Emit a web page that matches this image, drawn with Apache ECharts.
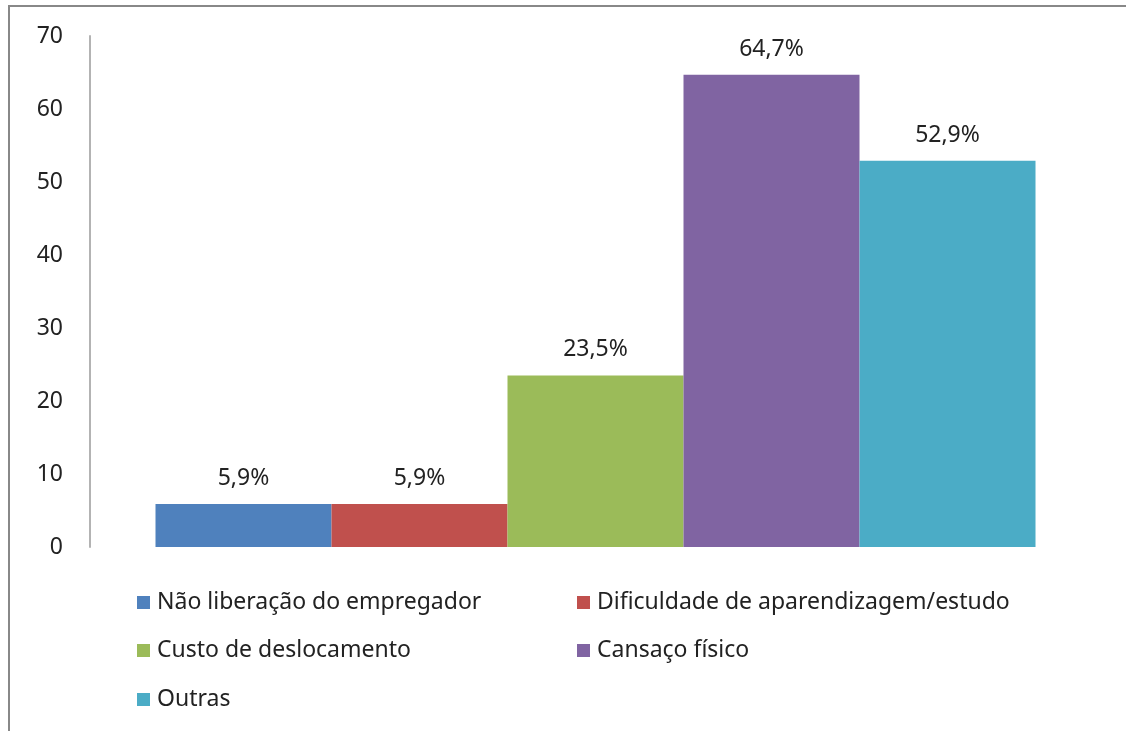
<!DOCTYPE html>
<html>
<head>
<meta charset="utf-8">
<script src="https://cdn.jsdelivr.net/npm/echarts@6/dist/echarts.min.js"></script>
<style>
  html, body { margin: 0; padding: 0; background: #fff; }
  #chart { width: 1126px; height: 731px; }
</style>
</head>
<body>
<div id="chart"></div>
<script>
// dados
var seriesNames = ['Não liberação do empregador', 'Dificuldade de aparendizagem/estudo', 'Custo de deslocamento', 'Cansaço físico', 'Outras'];
var seriesValues = [5.9, 5.9, 23.5, 64.7, 52.9];
var seriesColors = ['#4f81bd', '#c0504d', '#9bbb59', '#8064a2', '#4bacc6'];
var yTicks = [0, 10, 20, 30, 40, 50, 60, 70];

// posicao de cada item da legenda (2 colunas)
var legendPos = [[137, 591], [577, 591], [137, 639], [577, 639], [137, 688]];

var chart = echarts.init(document.getElementById('chart'));

var series = seriesNames.map(function (name, i) {
  return {
    name: name,
    type: 'bar',
    barWidth: 176,
    barGap: '0%',
    itemStyle: { color: seriesColors[i] },
    label: {
      show: true,
      position: 'top',
      distance: 14,
      fontFamily: 'Noto Sans',
      fontSize: 23,
      color: '#222',
      formatter: function (p) { return p.value.toFixed(1).replace('.', ',') + '%'; }
    },
    data: [seriesValues[i]]
  };
});

var legends = seriesNames.map(function (name, i) {
  return {
    data: [name],
    left: legendPos[i][0],
    top: legendPos[i][1],
    icon: 'rect',
    itemWidth: 13,
    itemHeight: 13,
    itemGap: 0,
    padding: 0,
    selectedMode: false,
    textStyle: { fontFamily: 'Noto Sans', fontSize: 23, color: '#222', padding: [0, 0, 0, 2] }
  };
});

chart.setOption({
  animation: false,
  backgroundColor: '#fff',
  graphic: [
    { type: 'line', shape: { x1: 8, y1: 6, x2: 1126, y2: 6 }, style: { stroke: '#888', lineWidth: 2 } },
    { type: 'line', shape: { x1: 9, y1: 5, x2: 9, y2: 731 }, style: { stroke: '#888', lineWidth: 2 } }
  ],
  legend: legends,
  grid: { left: 90, right: 25, top: 36, bottom: 184 },
  xAxis: {
    type: 'category',
    data: [''],
    axisLine: { show: false },
    axisTick: { show: false },
    axisLabel: { show: false }
  },
  yAxis: {
    type: 'value',
    min: yTicks[0],
    max: yTicks[yTicks.length - 1],
    interval: 10,
    splitLine: { show: false },
    axisTick: { show: false },
    axisLine: { show: true, lineStyle: { color: '#b3b3b3', width: 2 } },
    axisLabel: { margin: 27, fontFamily: 'Noto Sans', fontSize: 23, color: '#222' }
  },
  series: series
});
</script>
</body>
</html>
